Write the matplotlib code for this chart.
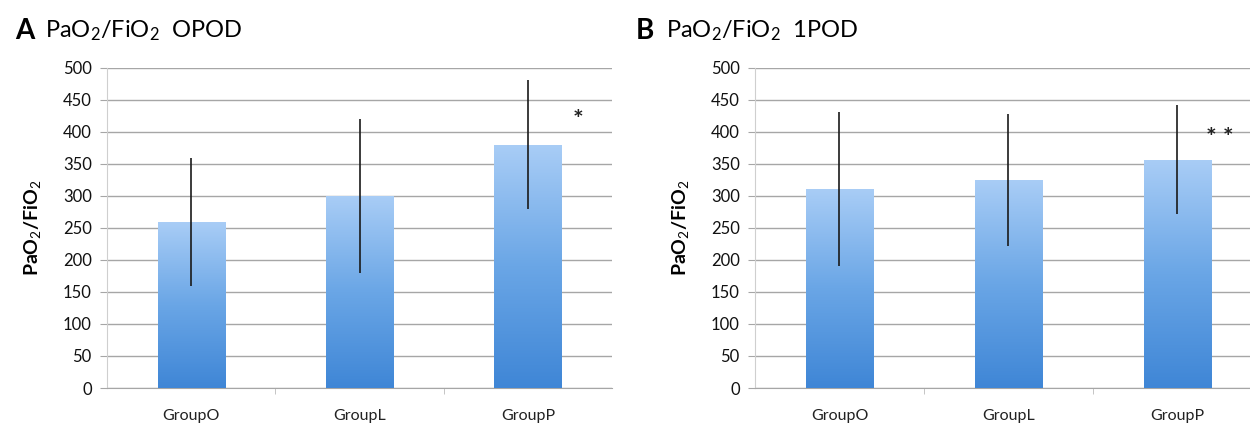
#!/usr/bin/env python3
# coding: utf-8
import matplotlib
matplotlib.use('Agg')
import matplotlib.pyplot as plt
import numpy as np
from matplotlib.colors import LinearSegmentedColormap

groups = ['GroupO', 'GroupL', 'GroupP']
pod0_mean = [260, 300, 380]
pod0_sd = [100, 120, 101]
pod1_mean = [311, 325, 357]
pod1_sd = [120, 103, 85]
yticks = [0, 50, 100, 150, 200, 250, 300, 350, 400, 450, 500]

plt.rcParams['font.family'] = ['Lato', 'DejaVu Sans']
plt.rcParams['mathtext.fontset'] = 'custom'
plt.rcParams['mathtext.rm'] = 'Lato'
plt.rcParams['mathtext.it'] = 'Lato:italic'
plt.rcParams['mathtext.bf'] = 'Lato:bold'

bar_cmap = LinearSegmentedColormap.from_list('xl', ['#3f86d6', '#6aa6e6', '#a9cdf6'])
GRID = '#a6a6a6'


def panel(fig, rect, means, sds, letter, title, star, star_x, star_y, xmax,
          letter_x, title_x):
    ax = fig.add_axes(rect)
    x = np.arange(len(groups))
    bars = ax.bar(x, means, width=0.4, color='#6aa6e6', zorder=2)
    # vertical gradient inside every bar
    grad = np.linspace(0, 1, 256).reshape(-1, 1)
    for b in bars:
        x0, y0 = b.get_x(), b.get_y()
        im = ax.imshow(grad, cmap=bar_cmap, aspect='auto', origin='lower',
                       extent=(x0, x0 + b.get_width(), y0, y0 + b.get_height()),
                       zorder=3)
        im.set_clip_path(b)
    ax.errorbar(x, means, yerr=sds, fmt='none', ecolor='#1a1a1a',
                elinewidth=1.2, capsize=0, zorder=4)
    ax.set_xlim(-0.5, xmax)
    ax.set_ylim(0, 500)
    ax.set_yticks(yticks)
    ax.set_xticks(x)
    ax.set_xticklabels(groups, fontsize=11.5)
    ax.set_xticks([0.5, 1.5], minor=True)
    ax.tick_params(axis='x', which='major', length=0, pad=15, colors='#222222')
    ax.tick_params(axis='x', which='minor', length=4, color='#bbbbbb')
    ax.tick_params(axis='y', length=5, color=GRID, labelsize=12, pad=6,
                   labelcolor='#111111')
    ax.yaxis.grid(True, color=GRID, linewidth=1.0, zorder=0)
    ax.set_axisbelow(True)
    for s in ('top', 'right'):
        ax.spines[s].set_visible(False)
    ax.spines['left'].set_color('#cfcfcf')
    ax.spines['bottom'].set_color(GRID)
    ax.set_ylabel(r'PaO$_2$/FiO$_2$', fontsize=14, fontweight='bold', labelpad=14)
    ax.text(2 + star_x, star_y, star, ha='center', va='center', fontsize=18,
            fontweight='bold', color='#222222')
    fig.text(letter_x, 0.928, letter, fontsize=20, fontweight='bold',
             ha='left', va='center')
    fig.text(title_x, 0.928, title, fontsize=17, ha='left', va='center')
    return ax


fig = plt.figure(figsize=(12.5, 4.26), dpi=100)
panel(fig, [0.0856, 0.0892, 0.404, 0.7512], pod0_mean, pod0_sd,
      'A', r'PaO$_2$/FiO$_2$  OPOD', '*', 0.3, 418, 2.5, 0.012, 0.036)
panel(fig, [0.604, 0.0892, 0.396, 0.7512], pod1_mean, pod1_sd,
      'B', r'PaO$_2$/FiO$_2$  1POD', '* *', 0.25, 390, 2.43, 0.509, 0.533)

fig.savefig('out.png', dpi=100, facecolor='white')
